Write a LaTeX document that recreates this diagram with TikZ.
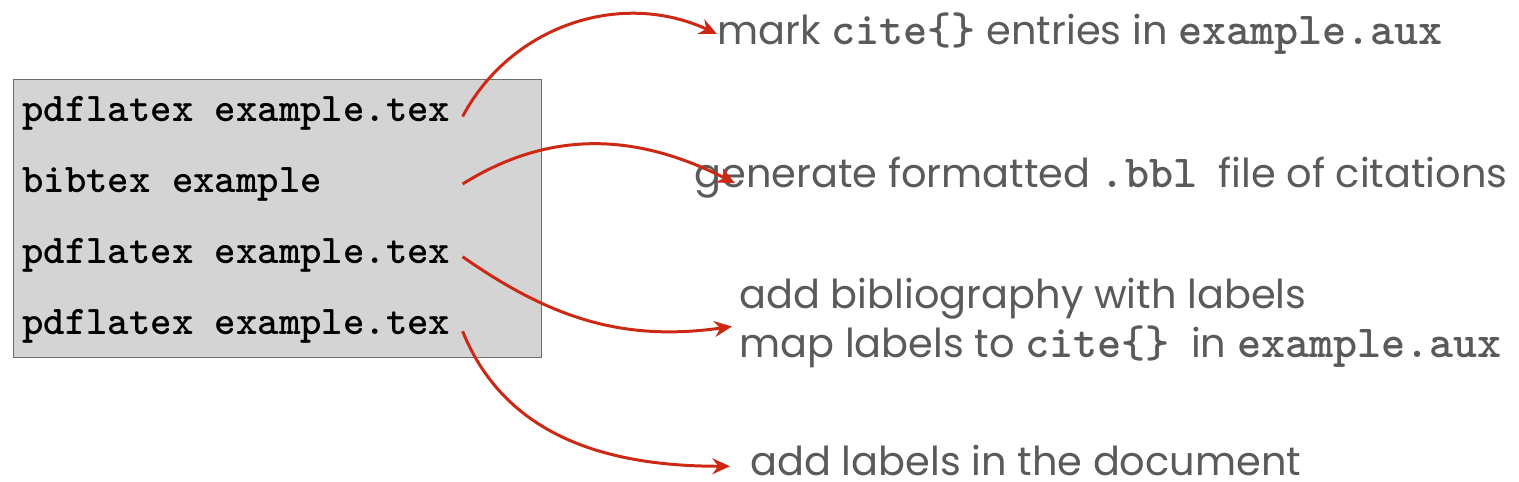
\documentclass[tikz,border=0pt]{standalone}
\usepackage{fontspec}
\setmainfont{Poppins}
\usetikzlibrary{arrows.meta, positioning}
\definecolor{boxgray}{RGB}{212,212,212}
\definecolor{edgegray}{RGB}{110,110,110}
\definecolor{textgray}{RGB}{90,90,90}
\definecolor{arrowred}{RGB}{204,40,20}
\tikzset{
	cmdline/.style={anchor=west, inner sep=0, text width=8.8cm, font=\fontsize{23.2}{27}\selectfont\ttfamily\bfseries},
	stepnote/.style={anchor=west, inner sep=0, align=left, text=textgray, font=\fontsize{22.7}{27.8}\selectfont},
	redarrow/.style={draw=arrowred, line width=1.7pt, -{Stealth[length=10pt, width=9pt]}}
}
\newcommand{\mono}[1]{{\fontsize{26.1}{27.8}\selectfont\ttfamily\bfseries #1}}
\newcommand{\tsp}{\hspace{0.525em}}

\begin{document}
\begin{tikzpicture}[x=0.02cm, y=-0.02cm]
		\useasboundingbox (0,0) rectangle (1519,482);
		%box
		\node [draw=edgegray, fill=boxgray, line width=0.6pt, anchor=north west, minimum width=10.56cm, minimum height=5.56cm, inner sep=0] (cmds) at (13,79) {};
		\node [cmdline] (run1) at (22,113) {pdflatex\tsp example.tex};
		\node [cmdline] (run2) at (22,184) {bibtex\tsp example};
		\node [cmdline] (run3) at (22,255) {pdflatex\tsp example.tex};
		\node [cmdline] (run4) at (22,326) {pdflatex\tsp example.tex};
		%notes
		\node [stepnote] (note1) at (717,34) {mark \mono{cite\{\}} entries in \mono{example.aux}};
		\node [stepnote] (note2) at (694,178) {generate formatted \mono{.bbl}\ \ file of citations};
		\node [stepnote] (note3) at (739,323) {add bibliography with labels\\map labels to \mono{cite\{\}}\ \ in \mono{example.aux}};
		\node [stepnote] (note4) at (750,461) {add labels in the document};
		%arrows
		\draw [redarrow] ([yshift=-2pt]run1.east) to [out=62, in=155] (note1.west);
		\draw [redarrow] (run2.east) to [out=32, in=153] ([xshift=0.82cm, yshift=-3pt]note2.west);
		\draw [redarrow] ([yshift=-1pt]run3.east) to [out=-35, in=188] ([xshift=-0.14cm, yshift=-2pt]note3.west);
		\draw [redarrow] ([yshift=-3pt]run4.east) to [out=-68, in=180] ([xshift=-0.4cm, yshift=-3pt]note4.west);
		\end{tikzpicture}
\end{document}
